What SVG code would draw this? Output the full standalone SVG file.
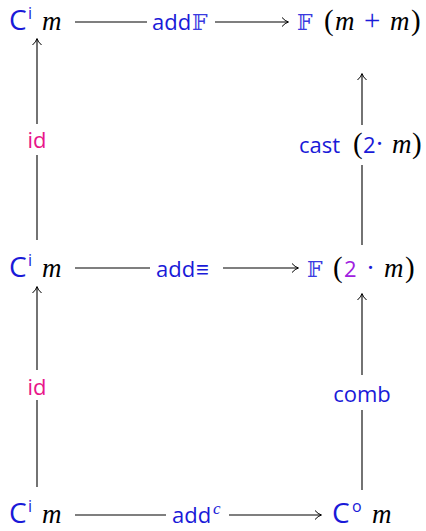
<svg xmlns="http://www.w3.org/2000/svg" width="426" height="531" viewBox="0 0 426 531">
<defs>
<marker id="ah" markerWidth="12" markerHeight="12" refX="9" refY="6" orient="auto" markerUnits="userSpaceOnUse">
<path d="M3,1.5 Q6,5 9.5,6 Q6,7 3,10.5" fill="none" stroke="#000" stroke-width="1"/>
</marker>
<style>
.l{stroke:#000;stroke-width:1.1;fill:none}
.sf{font-family:"Open Sans","Liberation Sans",sans-serif;fill:#1a1ad8;font-size:22px}
.mi{font-family:"Liberation Serif","DejaVu Serif",serif;font-style:italic;fill:#000;font-size:27px}
.rm{font-family:"Liberation Serif","DejaVu Serif",serif;fill:#000;font-size:27px}
.pa{font-family:"Liberation Serif","DejaVu Serif",serif;fill:#000;font-size:29px}
.bl{fill:#1a1ad8}
.bb{font-family:"DejaVu Serif","DejaVu Sans",serif;fill:#3a3ae0;font-size:22px}
.pk{font-family:"Open Sans","Liberation Sans",sans-serif;fill:#e8168a;font-size:22px}
.C{font-family:"Open Sans","Liberation Sans",sans-serif;fill:#1a1ad8;font-size:28px}
.sup{font-family:"Open Sans","Liberation Sans",sans-serif;fill:#1a1ad8;font-size:16px}
</style>
</defs>
<g id="connectors">
<line class="l" x1="75" y1="22" x2="147" y2="22"/>
<line class="l" x1="215" y1="22" x2="288" y2="22" marker-end="url(#ah)"/>
<line class="l" x1="75" y1="268" x2="150" y2="268"/>
<line class="l" x1="223" y1="268" x2="298" y2="268" marker-end="url(#ah)"/>
<line class="l" x1="75" y1="515" x2="166" y2="515"/>
<line class="l" x1="229" y1="515" x2="321" y2="515" marker-end="url(#ah)"/>
<line class="l" x1="37" y1="240" x2="37" y2="155"/>
<line class="l" x1="37" y1="124" x2="37" y2="39" marker-end="url(#ah)"/>
<line class="l" x1="37" y1="487" x2="37" y2="400"/>
<line class="l" x1="37" y1="370" x2="37" y2="287" marker-end="url(#ah)"/>
<line class="l" x1="362" y1="245" x2="362" y2="165"/>
<line class="l" x1="362" y1="125" x2="362" y2="74" marker-end="url(#ah)"/>
<line class="l" x1="362" y1="490" x2="362" y2="410"/>
<line class="l" x1="362" y1="375" x2="362" y2="294" marker-end="url(#ah)"/>
<text class="sf" x="152" y="30">add<tspan class="bb" x="192">𝔽</tspan></text>
<text class="sf" x="156" y="277">add<tspan x="196">≡</tspan></text>
<text class="sf" x="172" y="523">add<tspan class="mi" style="fill:#1a1ad8;font-size:17px" x="213" y="514">c</tspan></text>
<text class="pk" x="37" y="148" text-anchor="middle">id</text>
<text class="pk" x="37" y="395" text-anchor="middle">id</text>
<text y="153"><tspan class="sf" x="299">cast</tspan><tspan class="pa" x="353">(</tspan><tspan class="sf" x="363">2</tspan><tspan class="rm bl" x="375">·</tspan><tspan class="mi" x="392">m</tspan><tspan class="pa" x="412">)</tspan></text>
<text class="sf" x="362" y="402" text-anchor="middle">comb</text>
</g>
<g id="n1"><text y="30"><tspan class="C" x="9">C</tspan><tspan class="sup" x="28" y="19">i</tspan><tspan class="mi" x="42" y="30">m</tspan></text></g>
<g id="n2"><text y="30"><tspan class="bb" x="297">𝔽</tspan><tspan class="pa" x="324">(</tspan><tspan class="mi" x="335">m</tspan><tspan class="pa bl" x="364">+</tspan><tspan class="mi" x="390">m</tspan><tspan class="pa" x="411">)</tspan></text></g>
<g id="n3"><text y="277"><tspan class="C" x="9">C</tspan><tspan class="sup" x="28" y="266">i</tspan><tspan class="mi" x="42" y="277">m</tspan></text></g>
<g id="n4"><text y="277"><tspan class="bb" x="307">𝔽</tspan><tspan class="pa" x="333">(</tspan><tspan class="sf" style="fill:#a020e0" x="344">2</tspan><tspan class="rm bl" x="366">·</tspan><tspan class="mi" x="384">m</tspan><tspan class="pa" x="405">)</tspan></text></g>
<g id="n5"><text y="523"><tspan class="C" x="9">C</tspan><tspan class="sup" x="28" y="512">i</tspan><tspan class="mi" x="42" y="523">m</tspan></text></g>
<g id="n6"><text y="523"><tspan class="C" x="332">C</tspan><tspan class="sup" x="352" y="512">o</tspan><tspan class="mi" x="372" y="523">m</tspan></text></g>
</svg>
